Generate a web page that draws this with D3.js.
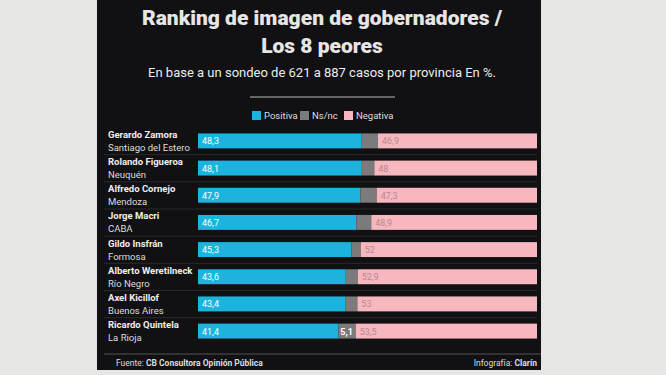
<!DOCTYPE html>
<html>
<head>
<meta charset="utf-8">
<script src="https://cdn.jsdelivr.net/npm/d3@7"></script>
<style>
  body { margin: 0; background: #e4e4e2; }
  svg { display: block; font-family: Roboto, "Noto Sans", sans-serif; }
</style>
</head>
<body>
<div id="chart"></div>
<script>
// Data
const names = ["Gerardo Zamora", "Rolando Figueroa", "Alfredo Cornejo", "Jorge Macri",
  "Gildo Insfrán", "Alberto Weretilneck", "Axel Kicillof", "Ricardo Quintela"];
const provinces = ["Santiago del Estero", "Neuquén", "Mendoza", "CABA",
  "Formosa", "Río Negro", "Buenos Aires", "La Rioja"];
const positiva = [48.3, 48.1, 47.9, 46.7, 45.3, 43.6, 43.4, 41.4];
const nsnc = [4.8, 3.9, 4.8, 4.4, 2.7, 3.5, 3.6, 5.1];
const negativa = [46.9, 48, 47.3, 48.9, 52, 52.9, 53, 53.5];
const seriesNames = ["Positiva", "Ns/nc", "Negativa"];
const colors = ["#1cb4df", "#7b7b7b", "#f6b7bf"];

const width = 666, height = 375;
const panel = { x: 97, y: 0, w: 444, h: 370 };
const chart = { left: 198, right: 537, top: 128, bottom: 344 };

const svg = d3.select("#chart").append("svg")
  .attr("width", width)
  .attr("height", height);

svg.append("rect")
  .attr("width", width).attr("height", height)
  .attr("fill", "#e6e6e4");

svg.append("rect")
  .attr("x", panel.x).attr("y", panel.y)
  .attr("width", panel.w).attr("height", panel.h)
  .attr("fill", "#111113");

const cx = 322;
const fmt = v => String(v).replace(".", ",");

// Title
svg.append("text")
  .attr("x", cx).attr("y", 25)
  .attr("text-anchor", "middle")
  .attr("fill", "#e6e6e6")
  .style("font-size", "21px").style("font-weight", 900)
  .text("Ranking de imagen de gobernadores /");
svg.append("text")
  .attr("x", cx).attr("y", 53)
  .attr("text-anchor", "middle")
  .attr("fill", "#e6e6e6")
  .style("font-size", "21px").style("font-weight", 900)
  .text("Los 8 peores");
svg.append("text")
  .attr("x", cx).attr("y", 77)
  .attr("text-anchor", "middle")
  .attr("fill", "#ececec")
  .style("font-size", "13px")
  .text("En base a un sondeo de 621 a 887 casos por provincia En %.");

svg.append("line")
  .attr("x1", 250).attr("x2", 395)
  .attr("y1", 97).attr("y2", 97)
  .attr("stroke", "#bbb").attr("stroke-width", 1);

// Legend
const legendX = [252, 300, 344];
const legend = svg.append("g").selectAll("g")
  .data(seriesNames)
  .join("g")
  .attr("transform", (d, i) => `translate(${legendX[i]},111)`);
legend.append("rect")
  .attr("width", 9).attr("height", 9)
  .attr("fill", (d, i) => colors[i]);
legend.append("text")
  .attr("x", 12).attr("y", 8)
  .attr("fill", "#ddd")
  .style("font-size", "9.5px")
  .text(d => d);

// Scales
const x = d3.scaleLinear().domain([0, 100]).range([chart.left, chart.right]);
const y = d3.scaleBand().domain(names).range([chart.top, chart.bottom]).paddingInner(0.45).paddingOuter(0.2);

const rows = names.map((n, i) => ({
  name: n, province: provinces[i],
  vals: [positiva[i], nsnc[i], negativa[i]]
}));

// row dividers
svg.append("g").selectAll("line")
  .data(names.slice(1))
  .join("line")
  .attr("x1", 104).attr("x2", chart.right)
  .attr("y1", d => y(d) - y.step() * 0.22)
  .attr("y2", d => y(d) - y.step() * 0.22)
  .attr("stroke", "#2a2a2c").attr("stroke-width", 1);

const row = svg.append("g").selectAll("g")
  .data(rows)
  .join("g")
  .attr("transform", d => `translate(0,${y(d.name)})`);

row.append("text")
  .attr("x", 108).attr("y", y.bandwidth() / 2 - 3)
  .attr("fill", "#eee")
  .style("font-size", "9.5px").style("font-weight", 700)
  .text(d => d.name);
row.append("text")
  .attr("x", 108).attr("y", y.bandwidth() / 2 + 10)
  .attr("fill", "#ddd")
  .style("font-size", "9.5px")
  .text(d => d.province);

row.each(function (d) {
  const g = d3.select(this);
  let acc = 0;
  d.vals.forEach((v, j) => {
    g.append("rect")
      .attr("x", x(acc))
      .attr("y", 0)
      .attr("width", x(acc + v) - x(acc))
      .attr("height", y.bandwidth())
      .attr("fill", colors[j]);
    if (j === 0) {
      g.append("text")
        .attr("x", x(acc) + 4).attr("y", y.bandwidth() / 2 + 3.5)
        .attr("fill", "#fff")
        .style("font-size", "9px")
        .text(fmt(v));
    } else if (j === 1 && v >= 5) {
      g.append("text")
        .attr("x", x(acc) + 2).attr("y", y.bandwidth() / 2 + 3.5)
        .attr("fill", "#fff")
        .style("font-size", "9px").style("font-weight", 700)
        .text(fmt(v));
    } else if (j === 2) {
      g.append("text")
        .attr("x", x(acc) + 4).attr("y", y.bandwidth() / 2 + 3.5)
        .attr("fill", "#b88890")
        .style("font-size", "9px")
        .text(fmt(v));
    }
    acc += v;
  });
});

// Footer
svg.append("line")
  .attr("x1", 104).attr("x2", 541)
  .attr("y1", 354).attr("y2", 354)
  .attr("stroke", "#555").attr("stroke-width", 1);
svg.append("text")
  .attr("x", 116).attr("y", 366)
  .attr("fill", "#ddd")
  .style("font-size", "8.5px")
  .html('Fuente: <tspan font-weight="700">CB Consultora Opinión Pública</tspan>');
svg.append("text")
  .attr("x", 537).attr("y", 366)
  .attr("text-anchor", "end")
  .attr("fill", "#ddd")
  .style("font-size", "8.5px")
  .html('Infografía: <tspan font-weight="700">Clarín</tspan>');
</script>
</body>
</html>
